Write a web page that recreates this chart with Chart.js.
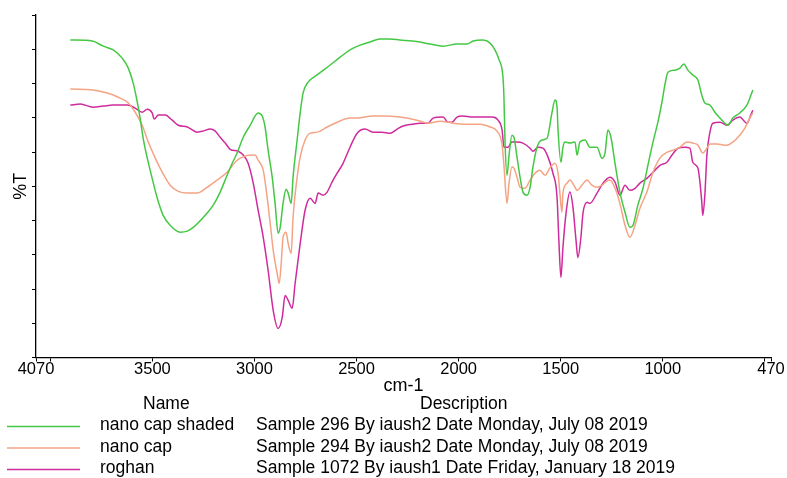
<!DOCTYPE html>
<html>
<head>
<meta charset="utf-8">
<script src="https://cdn.jsdelivr.net/npm/chart.js@4.4.1/dist/chart.umd.min.js"></script>
<style>
  html, body { margin: 0; padding: 0; background: #fff; }
  #wrap { position: relative; width: 787px; height: 478px; }
  canvas { display: block; }
</style>
</head>
<body>
<div id="wrap"><canvas id="c" width="787" height="478"></canvas></div>
<script>
// ---- Data (wavenumber in cm-1, transmittance %T) ----
const seriesNames = ['nano cap shaded', 'nano cap', 'roghan'];
const seriesDescriptions = [
  'Sample 296 By iaush2 Date Monday, July 08 2019',
  'Sample 294 By iaush2 Date Monday, July 08 2019',
  'Sample 1072 By iaush1 Date Friday, January 18 2019'
];
const seriesColors = ['#44c844', '#f4a484', '#cf2b9c'];

const shadedWn = [3902,3794,3741,3692,3648,3618,3594,3574,3560,3545,3525,3501,3476,3447,3413,3364,3329,3300,3251,3202,3168,3134,3109,3085,3055,3021,2982,2962,2948,2933,2913,2899,2884,2874,2860,2845,2835,2820,2811,2791,2776,2762,2737,2693,2629,2580,2532,2483,2434,2385,2336,2287,2228,2189,2140,2076,2008,1959,1929,1881,1846,1822,1802,1783,1778,1773,1763,1753,1739,1729,1714,1699,1685,1665,1650,1636,1616,1592,1567,1543,1528,1518,1513,1499,1489,1479,1455,1430,1420,1406,1381,1357,1322,1298,1283,1269,1254,1234,1210,1185,1161,1146,1122,1097,1073,1048,1024,1004,990,975,941,916,897,877,853,828,809,794,769,745,720,696,681,657,623,588,574,559];
const shadedT = [92.7,92.4,90.9,89.8,87.4,84.5,80.1,74.6,69.9,64.0,58.2,52.3,46.5,41.5,38.6,36.6,36.9,38.0,40.9,44.5,48.3,53.2,56.7,59.7,64.3,67.8,71.4,70.5,67.3,60.5,52.6,45.0,36.3,38.0,45.0,49.1,48.0,45.0,52.6,63.5,71.4,77.2,80.4,82.5,85.4,87.7,89.8,91.2,92.1,93.0,93.0,92.7,92.4,92.1,91.5,90.9,91.5,91.5,92.4,92.7,91.8,89.8,86.9,81.9,76.0,63.5,53.2,59.1,64.9,64.3,58.5,52.6,48.3,47.4,49.7,55.6,61.4,63.5,64.0,71.4,75.2,73.1,66.4,57.0,61.4,62.9,62.6,62.9,59.1,62.9,63.5,61.4,61.4,58.2,59.7,66.4,64.3,56.7,48.3,42.4,38.0,38.6,44.5,49.4,56.1,62.9,68.7,74.6,79.5,83.3,83.9,84.5,85.7,83.9,82.5,81.0,76.6,74.3,73.7,71.6,69.9,68.4,67.8,69.9,71.4,73.7,75.7,78.1];

const capWn = [3902,3790,3721,3667,3618,3584,3550,3520,3486,3452,3413,3373,3329,3280,3232,3183,3134,3085,3046,2997,2982,2957,2938,2923,2908,2889,2879,2869,2860,2845,2835,2820,2811,2791,2776,2752,2727,2693,2644,2595,2532,2497,2419,2370,2287,2204,2150,2091,2027,1959,1895,1846,1812,1787,1778,1763,1753,1739,1729,1714,1699,1675,1650,1626,1602,1577,1553,1528,1513,1504,1494,1489,1469,1455,1430,1420,1396,1371,1347,1322,1298,1274,1259,1234,1210,1185,1161,1136,1112,1078,1048,1014,980,950,916,882,853,828,804,784,769,735,686,657,623,598,574,559];
const capT = [78.4,78.1,77.2,76.0,74.3,71.6,67.8,62.9,58.2,54.1,50.3,48.5,48.0,48.0,49.7,51.8,54.1,57.6,58.8,59.1,57.6,54.7,46.8,39.2,31.3,24.6,21.6,27.5,35.1,36.6,33.3,30.4,40.9,52.6,58.5,63.5,65.5,65.8,67.3,68.7,69.9,69.9,70.5,70.5,70.2,69.3,68.4,69.0,68.4,68.1,68.1,67.3,66.1,62.0,56.1,45.0,50.9,55.6,55.3,52.6,49.7,49.4,51.8,53.8,54.7,53.2,55.3,56.7,53.8,48.0,42.4,48.0,50.9,51.8,49.7,48.8,50.3,51.8,50.3,49.7,50.3,51.5,51.8,49.4,45.0,38.6,35.1,38.6,43.6,48.3,54.1,58.2,59.9,60.5,61.4,62.9,62.6,62.0,59.7,61.1,62.3,62.3,62.0,62.9,64.9,67.0,69.9,71.4];

const roghanWn = [3902,3853,3790,3741,3692,3623,3584,3550,3525,3501,3491,3471,3437,3403,3373,3329,3280,3251,3217,3192,3168,3143,3119,3080,3055,3031,3006,2982,2957,2933,2908,2884,2864,2850,2835,2815,2801,2776,2752,2727,2703,2688,2664,2644,2620,2595,2566,2532,2497,2458,2419,2375,2336,2301,2272,2228,2189,2150,2125,2076,2052,2032,2008,1983,1929,1836,1807,1787,1778,1758,1739,1714,1685,1650,1636,1611,1587,1562,1538,1518,1509,1499,1489,1474,1455,1440,1425,1416,1401,1391,1371,1357,1322,1293,1259,1234,1210,1185,1161,1136,1112,1078,1048,1014,980,955,926,892,867,853,828,818,809,804,794,784,769,755,720,686,657,623,588,569,559];
const roghanT = [73.7,74.0,73.1,73.4,73.7,73.7,72.8,71.6,72.5,71.4,69.6,70.8,70.8,69.3,67.8,67.3,65.8,66.1,66.7,66.1,64.3,62.6,60.8,60.2,59.1,56.7,50.9,43.0,35.1,25.4,13.7,8.5,11.7,18.1,16.7,14.4,21.6,33.3,43.0,46.5,45.0,48.0,47.4,48.3,51.2,53.8,56.7,61.4,65.5,66.7,65.8,65.8,65.5,66.7,67.6,68.1,68.4,68.4,69.9,70.2,68.7,68.7,70.2,70.5,70.2,70.2,69.3,66.4,61.4,61.4,62.9,62.9,62.6,61.1,60.2,61.4,61.1,58.5,53.8,46.8,34.2,23.4,32.2,42.1,48.3,43.9,34.2,29.2,35.1,42.1,45.3,45.0,48.0,50.9,52.6,51.2,47.4,50.3,48.8,49.4,50.9,52.3,54.1,56.1,57.0,59.1,61.1,61.4,61.1,57.0,55.3,51.2,45.3,41.5,47.4,59.1,65.8,68.4,68.7,67.8,69.3,70.2,68.4,70.8,72.2];

// Axis ticks
const xMin = 470, xMax = 4070;
const xTickValues = [4070, 4000, 3500, 3000, 2500, 2000, 1500, 1000, 500, 470];
const xTickLabels = ['4070', '', '3500', '3000', '2500', '2000', '1500', '1000', '', '470'];
const yMin = 0, yMax = 100, yStep = 10;

// ---- Build datasets ----
function pts(xs, ys) { return xs.map((x, i) => ({ x: x, y: ys[i] })); }
const seriesData = [pts(shadedWn, shadedT), pts(capWn, capT), pts(roghanWn, roghanT)];

const FONT = '"Liberation Sans", Arial, sans-serif';

const legendTable = {
  id: 'legendTable',
  afterDraw(chart) {
    const ctx = chart.ctx;
    ctx.save();
    ctx.font = '17.5px ' + FONT;
    ctx.fillStyle = '#000';
    ctx.textBaseline = 'middle';
    ctx.textAlign = 'left';
    ctx.fillText('Name', 143, 404);
    ctx.fillText('Description', 420, 404);
    chart.data.datasets.forEach((ds, i) => {
      const y = 425.5 + i * 21.5;
      ctx.strokeStyle = ds.borderColor;
      ctx.lineWidth = 1.6;
      ctx.beginPath();
      ctx.moveTo(7, y + 1);
      ctx.lineTo(80, y + 1);
      ctx.stroke();
      ctx.fillStyle = '#000';
      ctx.fillText(ds.label, 100, y);
      ctx.fillText(ds.description, 256, y);
    });
    ctx.restore();
  }
};

new Chart(document.getElementById('c'), {
  type: 'line',
  data: {
    datasets: seriesNames.map((name, i) => ({
      label: name,
      description: seriesDescriptions[i],
      data: seriesData[i],
      borderColor: seriesColors[i],
      backgroundColor: seriesColors[i],
      borderWidth: 1.5,
      pointRadius: 0,
      fill: false,
      cubicInterpolationMode: 'monotone'
    }))
  },
  options: {
    responsive: false,
    animation: false,
    events: [],
    layout: { padding: { top: 15, right: 16, left: 0, bottom: 0 } },
    plugins: { legend: { display: false }, tooltip: { enabled: false } },
    scales: {
      x: {
        type: 'linear',
        reverse: true,
        min: xMin,
        max: xMax,
        afterBuildTicks: (scale) => { scale.ticks = xTickValues.map(v => ({ value: v })); },
        afterFit: (scale) => { scale.height = 120.5; },
        ticks: {
          autoSkip: false,
          maxRotation: 0,
          padding: 0,
          color: '#000',
          font: { family: FONT, size: 16.5, lineHeight: 1 },
          callback: (v) => { const i = xTickValues.indexOf(v); return i >= 0 ? xTickLabels[i] : ''; }
        },
        grid: { drawOnChartArea: false, drawTicks: true, tickLength: 4, color: '#000', tickColor: '#000', lineWidth: 1 },
        border: { display: true, color: '#000', width: 1.3 },
        title: {
          display: true,
          text: 'cm-1',
          color: '#000',
          font: { family: FONT, size: 18, lineHeight: 1.2 },
          padding: { top: 0, bottom: 81.2 }
        }
      },
      y: {
        type: 'linear',
        min: yMin,
        max: yMax,
        afterFit: (scale) => { scale.width = 36; },
        ticks: { display: false, stepSize: yStep },
        grid: { drawOnChartArea: false, drawTicks: true, tickLength: 4, color: '#000', tickColor: '#000', lineWidth: 1 },
        border: { display: true, color: '#000', width: 1.3 },
        title: {
          display: true,
          text: '%T',
          color: '#000',
          font: { family: FONT, size: 18, lineHeight: 1.2 },
          padding: { top: 10, bottom: 0 }
        }
      }
    }
  },
  plugins: [legendTable]
});
</script>
</body>
</html>
